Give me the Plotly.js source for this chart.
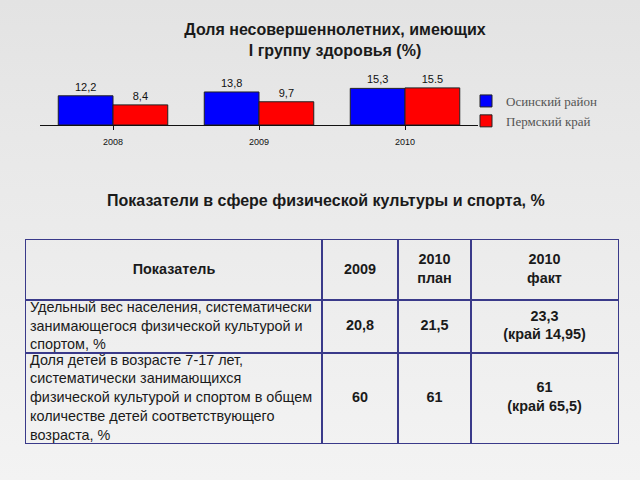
<!DOCTYPE html>
<html>
<head>
<meta charset="utf-8">
<script src="https://cdn.plot.ly/plotly-3.0.1.min.js"></script>
<style>
html,body{margin:0;padding:0;}
body{background:linear-gradient(to bottom,#e3e3e3 0%,#eaeaea 40%,#f3f3f3 100%);}
#chart{width:640px;height:480px;}
</style>
</head>
<body>
<div id="chart"></div>
<script>
// ---- bar chart data ----
const years = ['2008', '2009', '2010'];
const osinskyValues = [12.2, 13.8, 15.3];
const osinskyLabels = ['12,2', '13,8', '15,3'];
const permValues = [8.4, 9.7, 15.5];
const permLabels = ['8,4', '9,7', '15.5'];
const seriesNames = ['Осинский район', 'Пермский край'];

// ---- table data ----
const tableHeader = ['Показатель', '2009', '2010<br>план', '2010<br>факт'];
const indicators = [
  'Удельный вес населения, систематически<br>занимающегося физической культурой и<br>спортом, %',
  'Доля детей в возрасте 7-17 лет,<br>систематически занимающихся<br>физической культурой и спортом в общем<br>количестве детей соответствующего<br>возраста, %'
];
const values2009 = ['20,8', '60'];
const values2010plan = ['21,5', '61'];
const values2010fact = ['23,3<br>(край 14,95)', '61<br>(край 65,5)'];

const chartTitle = 'Доля несовершеннолетних, имеющих<br>I группу здоровья (%)';
const tableTitle = 'Показатели в сфере физической культуры и спорта, %';

// ---- table geometry (layout, in pixels) ----
const colWidths = [296, 76, 73, 147];
const rowHeights = [60, 53, 90];
const TABLE_LEFT = 26, TABLE_TOP = 240;
const LEFT_PAD = 4, LEFT_DROP = 0.5;

const W = 640, H = 480;
const py = p => 1 - p / H;
const px = p => p / W;
const bold = s => '<b>' + s.split('<br>').join('</b><br><b>') + '</b>';
const cum = a => a.reduce((acc, v) => { acc.push(acc[acc.length - 1] + v); return acc; }, [0]);

const colEdges = cum(colWidths);
const rowEdges = cum(rowHeights);
const tableW = colEdges[colEdges.length - 1];
const tableH = rowEdges[rowEdges.length - 1];
const colMid = i => (colEdges[i] + colEdges[i + 1]) / 2;
const rowMid = j => (rowEdges[j] + rowEdges[j + 1]) / 2;

// build table cell texts
const body = [indicators, values2009, values2010plan, values2010fact];
const cx = [], cy = [], ct = [], cpos = [];
tableHeader.forEach((h, i) => { cx.push(colMid(i)); cy.push(rowMid(0)); ct.push(bold(h)); cpos.push('middle center'); });
body.forEach((col, i) => col.forEach((v, r) => {
  if (i === 0) { cx.push(colEdges[0] + LEFT_PAD); cy.push(rowMid(r + 1) + LEFT_DROP); cpos.push('middle right'); ct.push(v); }
  else { cx.push(colMid(i)); cy.push(rowMid(r + 1)); cpos.push('middle center'); ct.push(bold(v)); }
}));

const FONT = 'Liberation Sans, Arial, sans-serif';
const GRID = '#3a3a8a';

const data = [
  {
    type: 'bar', name: seriesNames[0], x: years, y: osinskyValues,
    text: osinskyLabels, textposition: 'outside', cliponaxis: false,
    textfont: {family: FONT, size: 11, color: '#111'},
    marker: {color: '#0000ff', line: {color: '#222', width: 1}},
    xaxis: 'x', yaxis: 'y', hoverinfo: 'skip'
  },
  {
    type: 'bar', name: seriesNames[1], x: years, y: permValues,
    text: permLabels, textposition: 'outside', cliponaxis: false,
    textfont: {family: FONT, size: 11, color: '#111'},
    marker: {color: '#ff0000', line: {color: '#222', width: 1}},
    xaxis: 'x', yaxis: 'y', hoverinfo: 'skip'
  },
  {
    type: 'scatter', mode: 'text', x: cx, y: cy, text: ct, textposition: cpos,
    textfont: {family: FONT, size: 14.4, color: '#1a1a1a'},
    xaxis: 'x2', yaxis: 'y2', showlegend: false, hoverinfo: 'skip', cliponaxis: false
  }
];

const layout = {
  width: W, height: H,
  margin: {l: 0, r: 0, t: 0, b: 0},
  paper_bgcolor: 'rgba(0,0,0,0)',
  plot_bgcolor: 'rgba(0,0,0,0)',
  barmode: 'group', bargap: 0.25, bargroupgap: 0,
  title: {
    text: bold(chartTitle),
    x: px(335), xanchor: 'center', xref: 'paper',
    y: py(35), yanchor: 'top', yref: 'paper',
    font: {family: FONT, size: 16, color: '#1a1a1a'}
  },
  xaxis: {
    domain: [px(40), px(478)],
    showline: true, linecolor: '#111', linewidth: 1,
    ticks: 'outside', tickson: 'boundaries', ticklen: 4, tickcolor: '#111',
    ticklabelstandoff: 4,
    tickfont: {family: FONT, size: 9, color: '#111'},
    showgrid: false, zeroline: false, fixedrange: true
  },
  yaxis: {
    domain: [py(125), py(80)],
    range: [0, 18.8],
    visible: false, fixedrange: true
  },
  xaxis2: {
    domain: [px(TABLE_LEFT), px(TABLE_LEFT + tableW)],
    range: [0, tableW], anchor: 'y2',
    tickmode: 'array', tickvals: colEdges, showticklabels: false, ticks: '',
    showgrid: true, gridcolor: GRID, gridwidth: 1.3,
    showline: true, mirror: true, linecolor: GRID, linewidth: 1.3,
    zeroline: false, fixedrange: true
  },
  yaxis2: {
    domain: [py(TABLE_TOP + tableH), py(TABLE_TOP)],
    range: [tableH, 0], anchor: 'x2',
    tickmode: 'array', tickvals: rowEdges, showticklabels: false, ticks: '',
    showgrid: true, gridcolor: GRID, gridwidth: 1.3,
    showline: true, mirror: true, linecolor: GRID, linewidth: 1.3,
    zeroline: false, fixedrange: true
  },
  showlegend: true,
  legend: {
    x: px(466), xanchor: 'left', y: py(86), yanchor: 'top',
    bgcolor: 'rgba(0,0,0,0)',
    font: {family: 'Liberation Serif, Times New Roman, serif', size: 13, color: '#555'},
    itemwidth: 30, tracegroupgap: 0
  },
  annotations: [{
    text: '<b>' + tableTitle + '</b>',
    xref: 'paper', yref: 'paper', x: px(326), y: py(200),
    xanchor: 'center', yanchor: 'middle', showarrow: false,
    font: {family: FONT, size: 16, color: '#1a1a1a'}
  }]
};

Plotly.newPlot('chart', data, layout, {displayModeBar: false, staticPlot: true});
</script>
</body>
</html>
